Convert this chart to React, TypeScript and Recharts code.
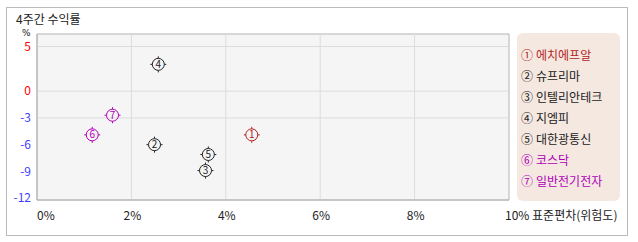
import React from "react";
import {
  ScatterChart,
  Scatter,
  XAxis,
  YAxis,
  CartesianGrid,
  ReferenceLine,
  ReferenceArea,
} from "recharts";

const STOCK_NAMES = [
  "에치에프알",
  "슈프리마",
  "인텔리안테크",
  "지엠피",
  "대한광통신",
  "코스닥",
  "일반전기전자",
];
const CIRCLED = ["①", "②", "③", "④", "⑤", "⑥", "⑦"];
// 표준편차(위험도), %
const RISK = [4.55, 2.49, 3.57, 2.57, 3.63, 1.17, 1.6];
// 4주간 수익률, %
const RETURN_4W = [-4.9, -6.0, -8.9, 3.0, -7.1, -4.9, -2.7];
const COLORS = [
  "#b22222",
  "#222222",
  "#222222",
  "#222222",
  "#222222",
  "#b000b8",
  "#b000b8",
];

const X_TICKS = [0, 2, 4, 6, 8, 10];
const Y_TICKS = [5, 0, -3, -6, -9, -12];
const Y_GRID = [5, 0, -3];
const Y_DOMAIN: [number, number] = [-12.2, 6.4];

const FONT = "'Noto Sans CJK KR', 'Noto Sans', sans-serif";

const points = RISK.map((x, i) => ({
  x,
  y: RETURN_4W[i],
  no: i + 1,
  color: COLORS[i],
}));

// circled-number marker with tiny ticks at the four sides
// eslint-disable-next-line @typescript-eslint/no-explicit-any
function Marker(props: any) {
  const { cx = 0, cy = 0, payload } = props;
  const c = payload?.color ?? "#222";
  return (
    <g>
      <circle cx={cx} cy={cy} r={6} fill="none" stroke={c} strokeWidth={1} />
      <line x1={cx} y1={cy - 8} x2={cx} y2={cy - 6} stroke={c} />
      <line x1={cx} y1={cy + 6} x2={cx} y2={cy + 8} stroke={c} />
      <line x1={cx - 8} y1={cy} x2={cx - 6} y2={cy} stroke={c} />
      <line x1={cx + 6} y1={cy} x2={cx + 8} y2={cy} stroke={c} />
      <text
        x={cx}
        y={cy}
        dy="0.36em"
        textAnchor="middle"
        fontSize={10}
        fontFamily={FONT}
        fill={c}
      >
        {payload?.no}
      </text>
    </g>
  );
}

// eslint-disable-next-line @typescript-eslint/no-explicit-any
function XTick(props: any) {
  const { x = 0, payload } = props;
  const v = payload?.value;
  let anchor: "start" | "middle" = "middle";
  let label = `${v}%`;
  let tx = x + 1;
  if (v === 0) {
    anchor = "start";
    tx = x;
  }
  if (v === 10) {
    anchor = "start";
    label = "10% 표준편차(위험도)";
    tx = x - 4;
  }
  return (
    <text
      x={tx}
      y={216}
      dy="0.35em"
      textAnchor={anchor}
      fontSize={12}
      fontFamily={FONT}
      fill="#222"
    >
      {label}
    </text>
  );
}

// eslint-disable-next-line @typescript-eslint/no-explicit-any
function YTick(props: any) {
  const { y = 0, payload } = props;
  const v = payload?.value;
  return (
    <text
      x={31}
      y={y}
      dy="0.35em"
      textAnchor="end"
      fontSize={12}
      fontFamily={FONT}
      fill={v >= 0 ? "#ff0000" : "#4040ff"}
    >
      {v}
    </text>
  );
}

export default function App() {
  return (
    <div
      style={{
        position: "absolute",
        left: 0,
        top: 0,
        width: 638,
        height: 242,
        background: "#fff",
        fontFamily: FONT,
      }}
    >
      <div
        style={{
          position: "absolute",
          left: 6,
          top: 7,
          width: 620,
          height: 227,
          border: "1px solid #bbbbbb",
        }}
      />
      <div
        style={{
          position: "absolute",
          left: 16,
          top: 12,
          fontSize: 12,
          lineHeight: "14px",
          color: "#222",
        }}
      >
        4주간 수익률
      </div>
      <div
        style={{
          position: "absolute",
          left: 22,
          top: 28,
          fontSize: 9,
          lineHeight: "10px",
          color: "#222",
          fontFamily: "'DejaVu Sans', sans-serif",
        }}
      >
        %
      </div>
      <div style={{ position: "absolute", left: 0, top: 0 }}>
        <ScatterChart
          width={638}
          height={242}
          margin={{ top: 34, right: 129, bottom: 12, left: 7 }}
        >
          <CartesianGrid
            horizontal={false}
            vertical={false}
            fill="#f5f5f5"
          />
          <XAxis
            type="number"
            dataKey="x"
            domain={[0, 10]}
            ticks={X_TICKS}
            tick={<XTick />}
            tickLine={false}
            axisLine={{ stroke: "#b4b4b4" }}
            height={30}
            allowDataOverflow
          />
          <YAxis
            type="number"
            dataKey="y"
            domain={Y_DOMAIN}
            ticks={Y_TICKS}
            tick={<YTick />}
            tickLine={false}
            axisLine={{ stroke: "#b4b4b4" }}
            width={30}
            allowDataOverflow
            interval={0}
          />
          {Y_GRID.map((v) => (
            <ReferenceLine key={v} y={v} stroke="#dcdcdc" />
          ))}
          {X_TICKS.slice(1, 5).map((v) => (
            <ReferenceLine key={`x${v}`} x={v} stroke="#dcdcdc" />
          ))}
          <ReferenceArea
            x1={0}
            x2={10}
            y1={Y_DOMAIN[0]}
            y2={Y_DOMAIN[1]}
            fill="none"
            stroke="#b4b4b4"
          />
          <Scatter
            data={points}
            shape={<Marker />}
            isAnimationActive={false}
          />
        </ScatterChart>
      </div>
      <div
        style={{
          position: "absolute",
          left: 517,
          top: 33,
          width: 103,
          height: 168,
          borderRadius: 6,
          background: "#f5e8e1",
          paddingTop: 11,
          boxSizing: "border-box",
          fontSize: 12,
        }}
      >
        {STOCK_NAMES.map((name, i) => (
          <div
            key={name}
            style={{
              height: 21,
              lineHeight: "21px",
              paddingLeft: 4,
              color: COLORS[i],
              whiteSpace: "nowrap",
            }}
          >
            <span style={{ display: "inline-block", width: 15 }}>
              {CIRCLED[i]}
            </span>
            {name}
          </div>
        ))}
      </div>
    </div>
  );
}
